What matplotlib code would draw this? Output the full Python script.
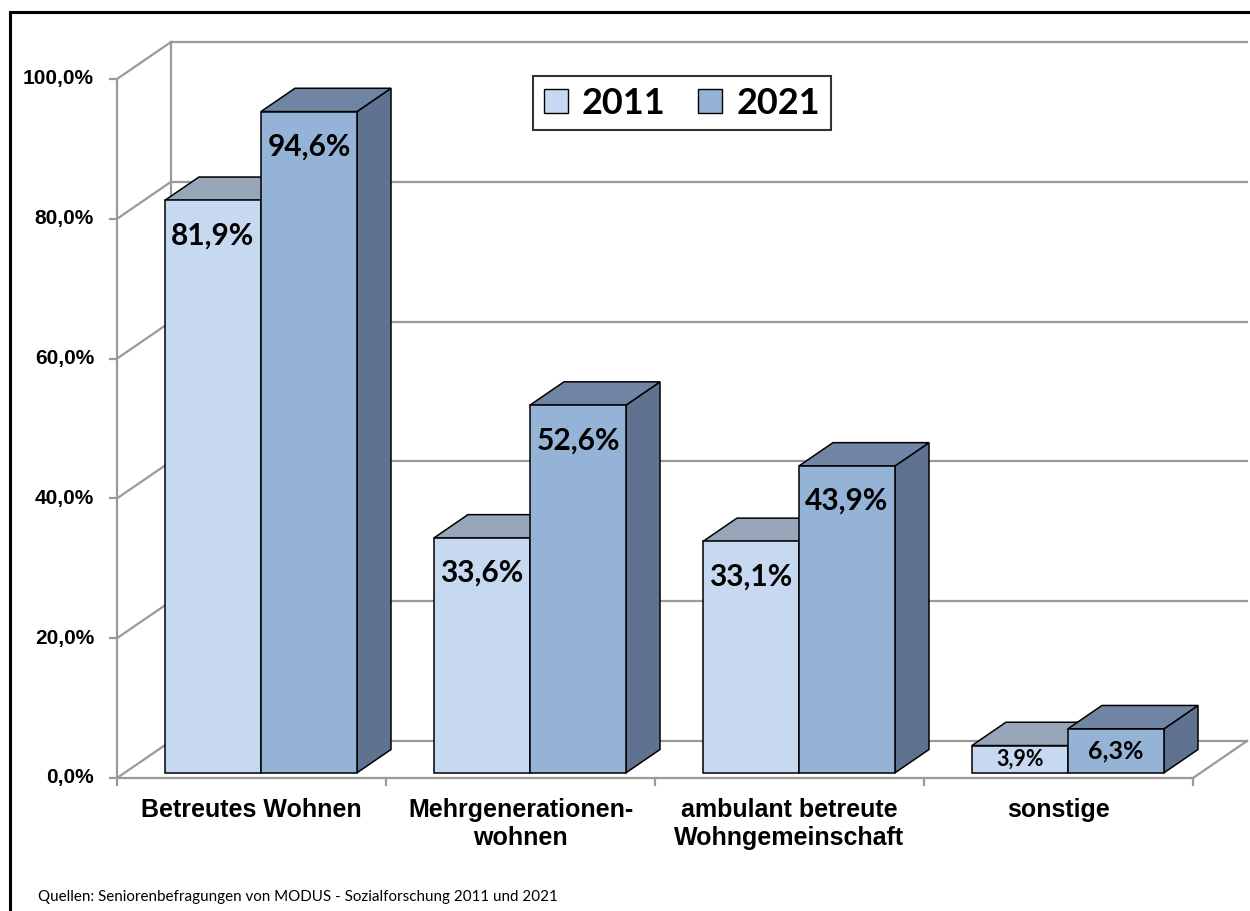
import matplotlib
matplotlib.use("Agg")
from matplotlib import pyplot as plt
from matplotlib.patches import Polygon, Patch, Rectangle

categories = ["Betreutes Wohnen", "Mehrgenerationen-\nwohnen",
              "ambulant betreute\nWohngemeinschaft", "sonstige"]
years = ["2011", "2021"]
share_2011 = [81.9, 33.6, 33.1, 3.9]
share_2021 = [94.6, 52.6, 43.9, 6.3]
y_ticks = [0, 20, 40, 60, 80, 100]
source = "Quellen: Seniorenbefragungen von MODUS - Sozialforschung 2011 und 2021"

# face colours per series: front, top, side
faces = {
    "2011": ("#c6d9f0", "#97a6b9", "#7a8aa0"),
    "2021": ("#95b3d7", "#7085a4", "#5f7290"),
}
label_sizes = {"2011": [21.5, 21.5, 21.5, 15.5], "2021": [21.5, 21.5, 21.5, 18]}

W, H = 1250, 911
fig = plt.figure(figsize=(W / 100, H / 100), dpi=100)
ax = fig.add_axes([0, 0, 1, 1])

# front plane: category units on x (269 px each), percent on y (6.99 px each)
x0px, y0px, xu, yu = 117, 778, 269.0, 6.99
ax.set_xlim(-x0px / xu, (W - x0px) / xu)
ax.set_ylim((y0px - H) / yu, y0px / yu)
ax.axis("off")

DX, DY = 54 / xu, 37 / yu          # full depth of the floor
n = len(categories)
grid = "#9a9a9a"
glw = 1.6

# walls and gridlines
for v in y_ticks:
    ax.plot([0, DX], [v, v + DY], color=grid, lw=glw, zorder=1)
    ax.plot([DX, n + DX], [v + DY, v + DY], color=grid, lw=glw, zorder=1)
    ax.plot([-7 / xu, 0], [v, v], color=grid, lw=glw, zorder=1)
    ax.text(-23 / xu, v, f"{v:.1f}%".replace(".", ","), ha="right", va="center",
            fontsize=15, fontweight="bold", family="Liberation Sans")
ax.plot([DX, DX], [DY, 100 + DY], color=grid, lw=glw, zorder=1)
ax.plot([0, 0], [0, 100], color=grid, lw=glw, zorder=1)
ax.plot([0, n], [0, 0], color=grid, lw=glw, zorder=1)
ax.plot([n, n + DX], [0, DY], color=grid, lw=glw, zorder=1)
for i in range(n + 1):
    ax.plot([i, i], [0, -7 / yu], color=grid, lw=glw, zorder=1)

# 3d bars
gap, bw = 0.15, 0.357
f0, f1 = 0.14, 0.77
ox, oy = f0 * DX, f0 * DY
dx, dy = (f1 - f0) * DX, (f1 - f0) * DY
z = 3
for i in range(n):
    for s, (year, vals) in enumerate(zip(years, [share_2011, share_2021])):
        v = vals[i]
        front, top, side = faces[year]
        x = i + gap + s * bw + ox
        b = oy
        ax.add_patch(Polygon([(x + bw, b), (x + bw, b + v), (x + bw + dx, b + v + dy),
                              (x + bw + dx, b + dy)], closed=True, fc=side,
                             ec="black", lw=1.1, zorder=z))
        ax.add_patch(Polygon([(x, b + v), (x + bw, b + v), (x + bw + dx, b + v + dy),
                              (x + dx, b + v + dy)], closed=True, fc=top,
                             ec="black", lw=1.1, zorder=z))
        ax.add_patch(Rectangle((x, b), bw, v, fc=front, ec="black", lw=1.1, zorder=z))
        z += 1
        ax.text(x + bw / 2, b + max(v - 5, v / 2), f"{v:.1f}%".replace(".", ","),
                ha="center", va="center", fontsize=label_sizes[year][i],
                fontweight="bold", family="Lato", zorder=20)
    ax.text(i + 0.5, -20 / yu, categories[i], ha="center", va="top",
            fontsize=18, fontweight="bold", family="Liberation Sans", linespacing=1.2)

handles = [Patch(fc=faces[y][0], ec="black", lw=1.0, label=y) for y in years]
leg = ax.legend(handles=handles, loc="center", bbox_to_anchor=(682 / W, 1 - 103 / H),
                bbox_transform=fig.transFigure, ncol=2, frameon=True, fancybox=False,
                handlelength=0.65, handleheight=0.65, handletextpad=0.4,
                columnspacing=0.9, borderpad=0.3, borderaxespad=0,
                prop={"family": "Lato", "weight": "bold", "size": 26})
leg.get_frame().set_edgecolor("black")
leg.get_frame().set_linewidth(1.5)

# outer frame
fig.patches.append(Rectangle((10 / W, -0.05), 1.1, 1 - 12 / H + 0.05, fill=False,
                             ec="black", lw=2.2, transform=fig.transFigure))

fig.text(38 / W, 1 - 897 / H, source, ha="left", va="center", fontsize=10.9,
         family="Lato")

fig.savefig("out.png", dpi=100)
